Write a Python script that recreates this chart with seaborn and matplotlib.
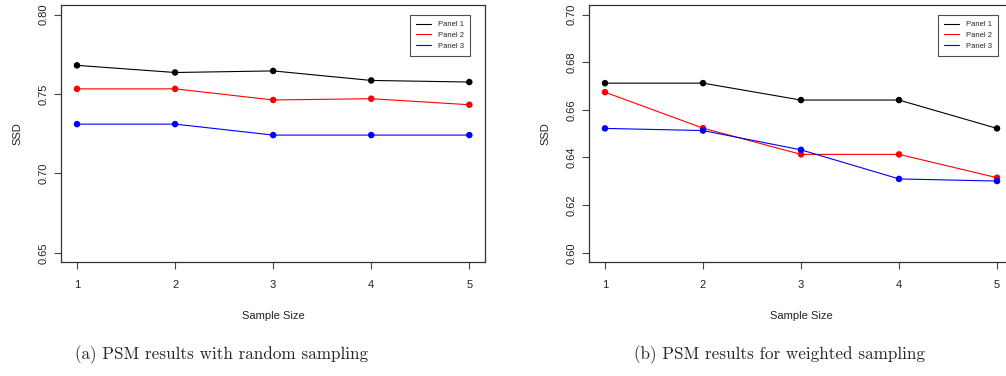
import numpy as np
import pandas as pd
import matplotlib
matplotlib.use("Agg")
import matplotlib.pyplot as plt
import seaborn as sns

# Sample sizes on the x axis
sample_size = [1, 2, 3, 4, 5]
series_names = ["Panel 1", "Panel 2", "Panel 3"]
series_colors = ["#000000", "#FF0000", "#0000FF"]

# SSD with random sampling
random_p1 = [0.768, 0.7635, 0.7645, 0.7585, 0.7575]
random_p2 = [0.7532, 0.7532, 0.7462, 0.7470, 0.7432]
random_p3 = [0.7310, 0.7310, 0.7241, 0.7241, 0.7241]

# SSD with weighted sampling
weighted_p1 = [0.6712, 0.6712, 0.6641, 0.6641, 0.6522]
weighted_p2 = [0.6674, 0.6523, 0.6413, 0.6413, 0.6315]
weighted_p3 = [0.6522, 0.6513, 0.6432, 0.6310, 0.6301]

random_ticks = [0.65, 0.70, 0.75, 0.80]
weighted_ticks = [0.60, 0.62, 0.64, 0.66, 0.68, 0.70]

captions = ["(a) PSM results with random sampling",
            "(b) PSM results for weighted sampling"]


def long_frame(p1, p2, p3):
    rows = []
    for name, vals in zip(series_names, [p1, p2, p3]):
        for x, v in zip(sample_size, vals):
            rows.append({"Sample Size": x, "SSD": v, "series": name})
    return pd.DataFrame(rows)


sns.set_style("white")
plt.rcParams["font.family"] = ["Liberation Sans", "DejaVu Sans"]

fig = plt.figure(figsize=(10.06, 3.76), dpi=100)
palette = dict(zip(series_names, series_colors))


def draw(ax, df, ticks, fmt):
    sns.lineplot(data=df, x="Sample Size", y="SSD", hue="series",
                 palette=palette, lw=0.8, ax=ax, legend=True)
    sns.scatterplot(data=df, x="Sample Size", y="SSD", hue="series",
                    palette=palette, s=22, edgecolor="none", ax=ax,
                    legend=False, zorder=3)
    lo, hi = ticks[0], ticks[-1]
    pad = (hi - lo) * 0.04
    ax.set_ylim(lo - pad, hi + pad)
    ax.set_xlim(0.84, 5.16)
    ax.set_xticks(sample_size)
    ax.set_yticks(ticks)
    ax.set_yticklabels([fmt.format(t) for t in ticks], rotation=90,
                       va="center")
    ax.tick_params(axis="both", direction="out", length=5, width=0.8,
                   color="#444444", labelsize=8, labelcolor="#222222",
                   left=True, bottom=True)
    ax.tick_params(axis="x", pad=8)
    ax.tick_params(axis="y", pad=4)
    for sp in ax.spines.values():
        sp.set_color("#333333")
        sp.set_linewidth(0.9)
        sp.set_visible(True)
    ax.set_xlabel("Sample Size", fontsize=8, color="#222222", labelpad=15)
    ax.set_ylabel("SSD", fontsize=8, color="#222222", labelpad=12)
    handles, labels = ax.get_legend_handles_labels()
    leg = ax.legend(handles, labels, loc="upper right", fontsize=5.5,
                    frameon=True, fancybox=False, handlelength=2.0,
                    borderpad=0.8, labelspacing=0.45, handletextpad=0.9,
                    borderaxespad=0.0, bbox_to_anchor=(0.965, 0.962))
    leg.get_frame().set_edgecolor("#222222")
    leg.get_frame().set_linewidth(0.8)


ax1 = fig.add_axes([61.3 / 1006, 113.7 / 376, 423.7 / 1006, 257.3 / 376])
ax2 = fig.add_axes([589.3 / 1006, 113.7 / 376, 423.4 / 1006, 257.3 / 376])

draw(ax1, long_frame(random_p1, random_p2, random_p3), random_ticks, "{:.2f}")
draw(ax2, long_frame(weighted_p1, weighted_p2, weighted_p3), weighted_ticks, "{:.2f}")

fig.text(222 / 1006, 1 - 355 / 376, captions[0], ha="center", va="center",
         fontsize=12.3, family="cmr10")
fig.text(780 / 1006, 1 - 355 / 376, captions[1], ha="center", va="center",
         fontsize=12.3, family="cmr10")

fig.savefig("out.png", dpi=100)
